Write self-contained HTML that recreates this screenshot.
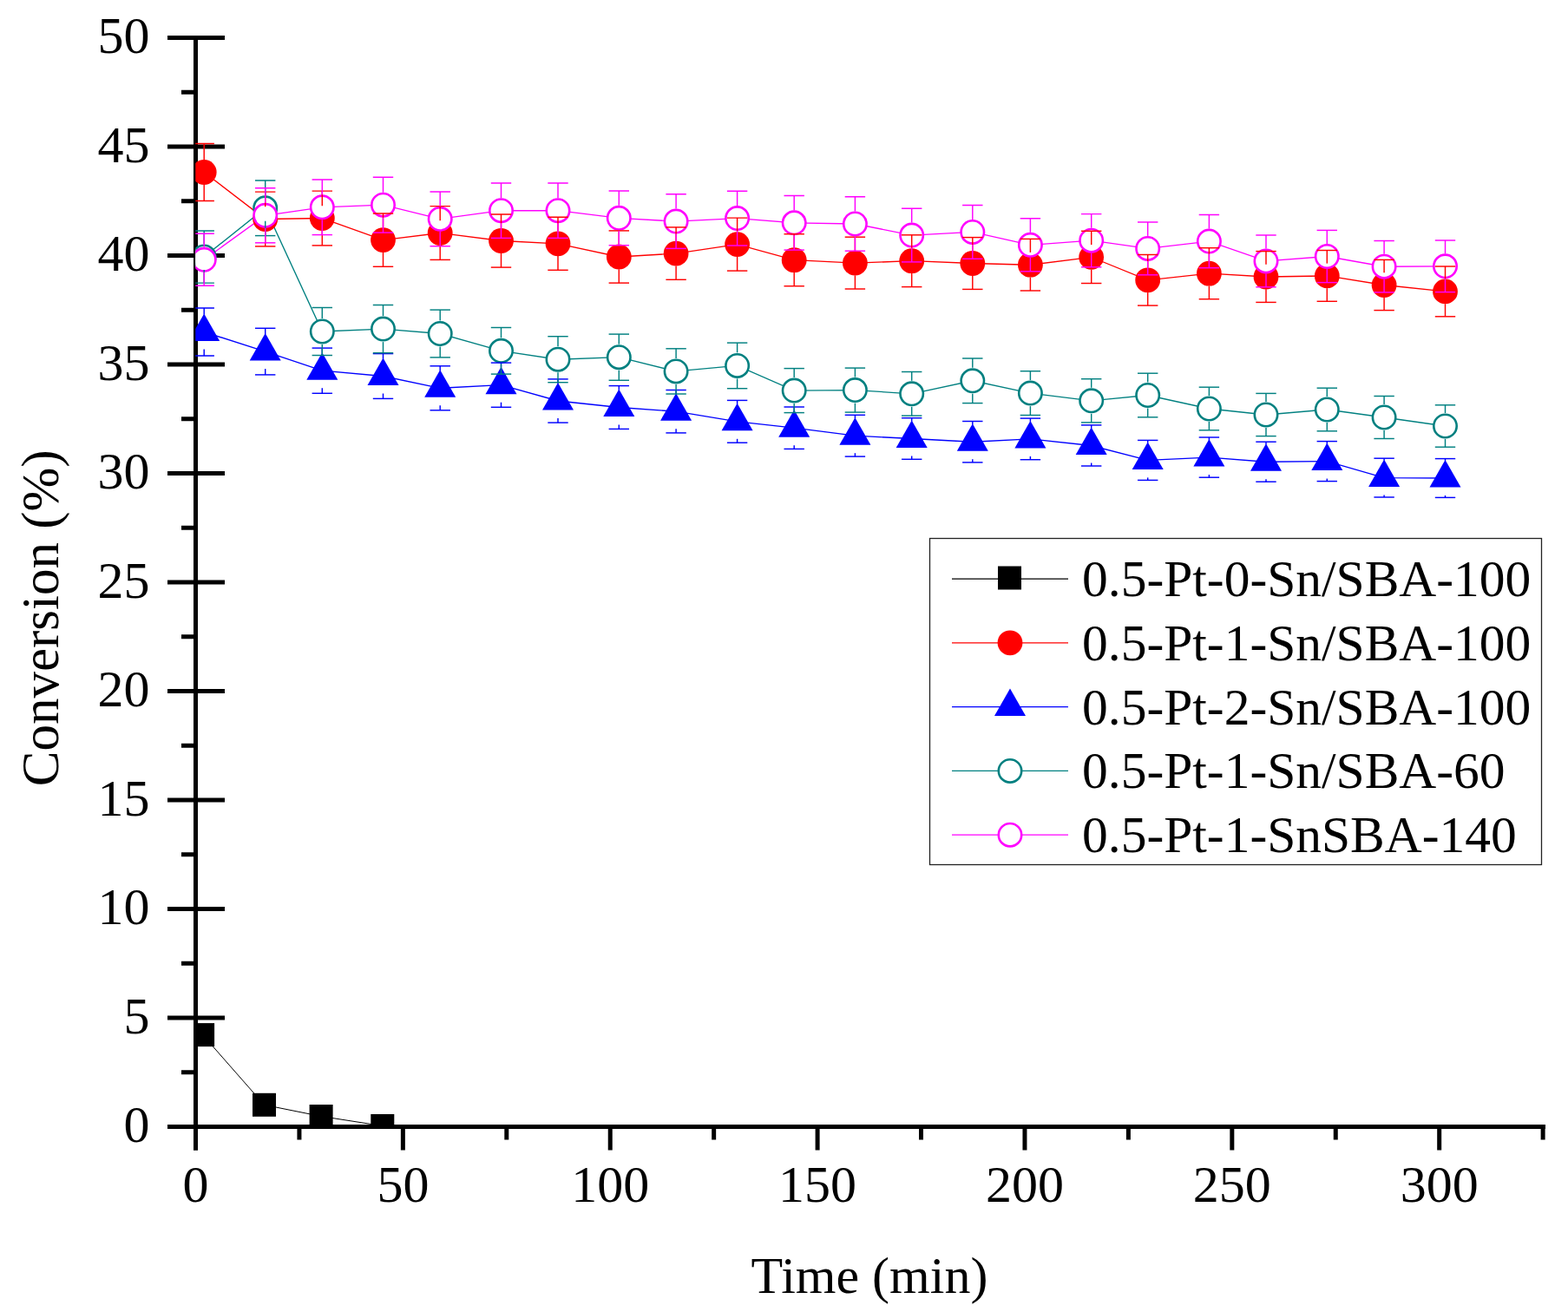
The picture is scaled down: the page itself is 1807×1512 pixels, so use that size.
<!DOCTYPE html>
<html><head><meta charset="utf-8"><title>Conversion vs Time</title>
<style>html,body{margin:0;padding:0;background:#fff;}svg{display:block;}</style>
</head><body>
<svg width="1807" height="1512" viewBox="0 0 1807 1512">
<rect x="0" y="0" width="1807" height="1512" fill="#ffffff"/>
<defs><clipPath id="pc"><rect x="225.3" y="43.5" width="1552.7" height="1255"/></clipPath></defs>
<g stroke="#000" stroke-width="5" stroke-linecap="butt"><line x1="225.5" y1="41" x2="225.5" y2="1325.5" /><line x1="193" y1="1298.5" x2="1781" y2="1298.5" /><line x1="193" y1="1298.50" x2="259" y2="1298.50" /><line x1="193" y1="1173.00" x2="259" y2="1173.00" /><line x1="193" y1="1047.50" x2="259" y2="1047.50" /><line x1="193" y1="922.00" x2="259" y2="922.00" /><line x1="193" y1="796.50" x2="259" y2="796.50" /><line x1="193" y1="671.00" x2="259" y2="671.00" /><line x1="193" y1="545.50" x2="259" y2="545.50" /><line x1="193" y1="420.00" x2="259" y2="420.00" /><line x1="193" y1="294.50" x2="259" y2="294.50" /><line x1="193" y1="169.00" x2="259" y2="169.00" /><line x1="193" y1="43.50" x2="259" y2="43.50" /><line x1="209" y1="1235.75" x2="225.5" y2="1235.75" /><line x1="209" y1="1110.25" x2="225.5" y2="1110.25" /><line x1="209" y1="984.75" x2="225.5" y2="984.75" /><line x1="209" y1="859.25" x2="225.5" y2="859.25" /><line x1="209" y1="733.75" x2="225.5" y2="733.75" /><line x1="209" y1="608.25" x2="225.5" y2="608.25" /><line x1="209" y1="482.75" x2="225.5" y2="482.75" /><line x1="209" y1="357.25" x2="225.5" y2="357.25" /><line x1="209" y1="231.75" x2="225.5" y2="231.75" /><line x1="209" y1="106.25" x2="225.5" y2="106.25" /><line x1="225.50" y1="1298.5" x2="225.50" y2="1325.5" /><line x1="464.37" y1="1298.5" x2="464.37" y2="1325.5" /><line x1="703.23" y1="1298.5" x2="703.23" y2="1325.5" /><line x1="942.10" y1="1298.5" x2="942.10" y2="1325.5" /><line x1="1180.96" y1="1298.5" x2="1180.96" y2="1325.5" /><line x1="1419.83" y1="1298.5" x2="1419.83" y2="1325.5" /><line x1="1658.69" y1="1298.5" x2="1658.69" y2="1325.5" /><line x1="344.93" y1="1298.5" x2="344.93" y2="1313.5" /><line x1="583.80" y1="1298.5" x2="583.80" y2="1313.5" /><line x1="822.66" y1="1298.5" x2="822.66" y2="1313.5" /><line x1="1061.53" y1="1298.5" x2="1061.53" y2="1313.5" /><line x1="1300.39" y1="1298.5" x2="1300.39" y2="1313.5" /><line x1="1539.26" y1="1298.5" x2="1539.26" y2="1313.5" /><line x1="1778.12" y1="1298.5" x2="1778.12" y2="1313.5" /></g>
<g font-family="'Liberation Serif', 'Times New Roman', serif" font-size="60" fill="#000"><text x="172.5" y="1316.0" text-anchor="end">0</text><text x="172.5" y="1190.5" text-anchor="end">5</text><text x="172.5" y="1065.0" text-anchor="end">10</text><text x="172.5" y="939.5" text-anchor="end">15</text><text x="172.5" y="814.0" text-anchor="end">20</text><text x="172.5" y="688.5" text-anchor="end">25</text><text x="172.5" y="563.0" text-anchor="end">30</text><text x="172.5" y="437.5" text-anchor="end">35</text><text x="172.5" y="312.0" text-anchor="end">40</text><text x="172.5" y="186.5" text-anchor="end">45</text><text x="172.5" y="61.0" text-anchor="end">50</text><text x="225.5" y="1385" text-anchor="middle">0</text><text x="464.4" y="1385" text-anchor="middle">50</text><text x="703.2" y="1385" text-anchor="middle">100</text><text x="942.1" y="1385" text-anchor="middle">150</text><text x="1181.0" y="1385" text-anchor="middle">200</text><text x="1419.8" y="1385" text-anchor="middle">250</text><text x="1658.7" y="1385" text-anchor="middle">300</text></g>
<text x="1002" y="1490" text-anchor="middle" font-family="'Liberation Serif', 'Times New Roman', serif" font-size="60" fill="#000">Time (min)</text>
<text transform="translate(66.8,712.3) rotate(-90)" x="0" y="0" text-anchor="middle" font-family="'Liberation Serif', 'Times New Roman', serif" font-size="61" fill="#000">Conversion (%)</text>
<g clip-path="url(#pc)"><polyline points="233.6,1192.6 304.5,1273.3 370.1,1286.5 440.8,1297.5" fill="none" stroke="#000000" stroke-width="1.0"/><polyline points="235.2,198.5 305.7,252.5 371.3,251.5 441.5,276.6 507.2,268.5 577.5,277.5 643.0,280.8 713.3,296.0 779.1,292.1 849.6,281.6 915.2,299.7 985.4,303.1 1050.7,300.7 1120.8,303.5 1187.4,305.2 1257.7,296.4 1322.7,322.8 1393.4,315.2 1459.0,319.0 1529.3,317.9 1595.1,328.5 1665.5,335.9" fill="none" stroke="#ff0000" stroke-width="1.35"/><polyline points="235.2,382.5 305.7,405.1 371.3,427.2 441.5,433.5 507.2,447.3 577.5,443.7 643.0,462.0 713.3,469.5 779.1,474.2 849.6,485.8 915.2,493.2 985.4,502.2 1050.7,505.5 1120.8,509.2 1187.4,505.9 1257.7,513.5 1322.7,530.4 1393.4,527.1 1459.0,532.2 1529.3,531.6 1595.1,550.6 1665.5,551.0" fill="none" stroke="#0000ff" stroke-width="1.35"/><polyline points="235.2,296.0 305.7,239.8 371.3,382.0 441.5,379.1 507.2,384.5 577.5,404.3 643.0,414.2 713.3,411.7 779.1,427.9 849.6,421.4 915.2,450.1 985.4,449.6 1050.7,453.8 1120.8,438.8 1187.4,453.1 1257.7,461.8 1322.7,455.5 1393.4,471.0 1459.0,478.0 1529.3,472.0 1595.1,481.0 1665.5,491.0" fill="none" stroke="#008080" stroke-width="1.35"/><polyline points="235.2,299.3 305.7,248.3 371.3,238.8 441.5,236.2 507.2,252.3 577.5,242.7 643.0,242.7 713.3,251.3 779.1,255.1 849.6,251.6 915.2,256.8 985.4,258.0 1050.7,271.1 1120.8,267.4 1187.4,282.3 1257.7,277.2 1322.7,286.4 1393.4,278.1 1459.0,300.9 1529.3,295.5 1595.1,307.2 1665.5,306.8" fill="none" stroke="#ff00ff" stroke-width="1.35"/><rect x="220.1" y="1179.1" width="27" height="27" fill="#000000"/><rect x="291.0" y="1259.8" width="27" height="27" fill="#000000"/><rect x="356.6" y="1273.0" width="27" height="27" fill="#000000"/><rect x="427.3" y="1284.0" width="27" height="27" fill="#000000"/><circle cx="235.2" cy="198.5" r="14.4" fill="#ff0000"/><circle cx="305.7" cy="252.5" r="14.4" fill="#ff0000"/><circle cx="371.3" cy="251.5" r="14.4" fill="#ff0000"/><circle cx="441.5" cy="276.6" r="14.4" fill="#ff0000"/><circle cx="507.2" cy="268.5" r="14.4" fill="#ff0000"/><circle cx="577.5" cy="277.5" r="14.4" fill="#ff0000"/><circle cx="643.0" cy="280.8" r="14.4" fill="#ff0000"/><circle cx="713.3" cy="296.0" r="14.4" fill="#ff0000"/><circle cx="779.1" cy="292.1" r="14.4" fill="#ff0000"/><circle cx="849.6" cy="281.6" r="14.4" fill="#ff0000"/><circle cx="915.2" cy="299.7" r="14.4" fill="#ff0000"/><circle cx="985.4" cy="303.1" r="14.4" fill="#ff0000"/><circle cx="1050.7" cy="300.7" r="14.4" fill="#ff0000"/><circle cx="1120.8" cy="303.5" r="14.4" fill="#ff0000"/><circle cx="1187.4" cy="305.2" r="14.4" fill="#ff0000"/><circle cx="1257.7" cy="296.4" r="14.4" fill="#ff0000"/><circle cx="1322.7" cy="322.8" r="14.4" fill="#ff0000"/><circle cx="1393.4" cy="315.2" r="14.4" fill="#ff0000"/><circle cx="1459.0" cy="319.0" r="14.4" fill="#ff0000"/><circle cx="1529.3" cy="317.9" r="14.4" fill="#ff0000"/><circle cx="1595.1" cy="328.5" r="14.4" fill="#ff0000"/><circle cx="1665.5" cy="335.9" r="14.4" fill="#ff0000"/><polygon points="235.2,361.5 253.2,393.0 217.2,393.0" fill="#0000ff"/><polygon points="305.7,384.1 323.7,415.6 287.7,415.6" fill="#0000ff"/><polygon points="371.3,406.2 389.3,437.7 353.3,437.7" fill="#0000ff"/><polygon points="441.5,412.5 459.5,444.0 423.5,444.0" fill="#0000ff"/><polygon points="507.2,426.3 525.2,457.8 489.2,457.8" fill="#0000ff"/><polygon points="577.5,422.7 595.5,454.2 559.5,454.2" fill="#0000ff"/><polygon points="643.0,441.0 661.0,472.5 625.0,472.5" fill="#0000ff"/><polygon points="713.3,448.5 731.3,480.0 695.3,480.0" fill="#0000ff"/><polygon points="779.1,453.2 797.1,484.7 761.1,484.7" fill="#0000ff"/><polygon points="849.6,464.8 867.6,496.3 831.6,496.3" fill="#0000ff"/><polygon points="915.2,472.2 933.2,503.7 897.2,503.7" fill="#0000ff"/><polygon points="985.4,481.2 1003.4,512.7 967.4,512.7" fill="#0000ff"/><polygon points="1050.7,484.5 1068.7,516.0 1032.7,516.0" fill="#0000ff"/><polygon points="1120.8,488.2 1138.8,519.7 1102.8,519.7" fill="#0000ff"/><polygon points="1187.4,484.9 1205.4,516.4 1169.4,516.4" fill="#0000ff"/><polygon points="1257.7,492.5 1275.7,524.0 1239.7,524.0" fill="#0000ff"/><polygon points="1322.7,509.4 1340.7,540.9 1304.7,540.9" fill="#0000ff"/><polygon points="1393.4,506.1 1411.4,537.6 1375.4,537.6" fill="#0000ff"/><polygon points="1459.0,511.2 1477.0,542.7 1441.0,542.7" fill="#0000ff"/><polygon points="1529.3,510.6 1547.3,542.1 1511.3,542.1" fill="#0000ff"/><polygon points="1595.1,529.6 1613.1,561.1 1577.1,561.1" fill="#0000ff"/><polygon points="1665.5,530.0 1683.5,561.5 1647.5,561.5" fill="#0000ff"/><circle cx="235.2" cy="296.0" r="13.200000000000001" fill="#fff" stroke="#008080" stroke-width="2.6"/><circle cx="305.7" cy="239.8" r="13.200000000000001" fill="#fff" stroke="#008080" stroke-width="2.6"/><circle cx="371.3" cy="382.0" r="13.200000000000001" fill="#fff" stroke="#008080" stroke-width="2.6"/><circle cx="441.5" cy="379.1" r="13.200000000000001" fill="#fff" stroke="#008080" stroke-width="2.6"/><circle cx="507.2" cy="384.5" r="13.200000000000001" fill="#fff" stroke="#008080" stroke-width="2.6"/><circle cx="577.5" cy="404.3" r="13.200000000000001" fill="#fff" stroke="#008080" stroke-width="2.6"/><circle cx="643.0" cy="414.2" r="13.200000000000001" fill="#fff" stroke="#008080" stroke-width="2.6"/><circle cx="713.3" cy="411.7" r="13.200000000000001" fill="#fff" stroke="#008080" stroke-width="2.6"/><circle cx="779.1" cy="427.9" r="13.200000000000001" fill="#fff" stroke="#008080" stroke-width="2.6"/><circle cx="849.6" cy="421.4" r="13.200000000000001" fill="#fff" stroke="#008080" stroke-width="2.6"/><circle cx="915.2" cy="450.1" r="13.200000000000001" fill="#fff" stroke="#008080" stroke-width="2.6"/><circle cx="985.4" cy="449.6" r="13.200000000000001" fill="#fff" stroke="#008080" stroke-width="2.6"/><circle cx="1050.7" cy="453.8" r="13.200000000000001" fill="#fff" stroke="#008080" stroke-width="2.6"/><circle cx="1120.8" cy="438.8" r="13.200000000000001" fill="#fff" stroke="#008080" stroke-width="2.6"/><circle cx="1187.4" cy="453.1" r="13.200000000000001" fill="#fff" stroke="#008080" stroke-width="2.6"/><circle cx="1257.7" cy="461.8" r="13.200000000000001" fill="#fff" stroke="#008080" stroke-width="2.6"/><circle cx="1322.7" cy="455.5" r="13.200000000000001" fill="#fff" stroke="#008080" stroke-width="2.6"/><circle cx="1393.4" cy="471.0" r="13.200000000000001" fill="#fff" stroke="#008080" stroke-width="2.6"/><circle cx="1459.0" cy="478.0" r="13.200000000000001" fill="#fff" stroke="#008080" stroke-width="2.6"/><circle cx="1529.3" cy="472.0" r="13.200000000000001" fill="#fff" stroke="#008080" stroke-width="2.6"/><circle cx="1595.1" cy="481.0" r="13.200000000000001" fill="#fff" stroke="#008080" stroke-width="2.6"/><circle cx="1665.5" cy="491.0" r="13.200000000000001" fill="#fff" stroke="#008080" stroke-width="2.6"/><circle cx="235.2" cy="299.3" r="13.200000000000001" fill="#fff" stroke="#ff00ff" stroke-width="2.6"/><circle cx="305.7" cy="248.3" r="13.200000000000001" fill="#fff" stroke="#ff00ff" stroke-width="2.6"/><circle cx="371.3" cy="238.8" r="13.200000000000001" fill="#fff" stroke="#ff00ff" stroke-width="2.6"/><circle cx="441.5" cy="236.2" r="13.200000000000001" fill="#fff" stroke="#ff00ff" stroke-width="2.6"/><circle cx="507.2" cy="252.3" r="13.200000000000001" fill="#fff" stroke="#ff00ff" stroke-width="2.6"/><circle cx="577.5" cy="242.7" r="13.200000000000001" fill="#fff" stroke="#ff00ff" stroke-width="2.6"/><circle cx="643.0" cy="242.7" r="13.200000000000001" fill="#fff" stroke="#ff00ff" stroke-width="2.6"/><circle cx="713.3" cy="251.3" r="13.200000000000001" fill="#fff" stroke="#ff00ff" stroke-width="2.6"/><circle cx="779.1" cy="255.1" r="13.200000000000001" fill="#fff" stroke="#ff00ff" stroke-width="2.6"/><circle cx="849.6" cy="251.6" r="13.200000000000001" fill="#fff" stroke="#ff00ff" stroke-width="2.6"/><circle cx="915.2" cy="256.8" r="13.200000000000001" fill="#fff" stroke="#ff00ff" stroke-width="2.6"/><circle cx="985.4" cy="258.0" r="13.200000000000001" fill="#fff" stroke="#ff00ff" stroke-width="2.6"/><circle cx="1050.7" cy="271.1" r="13.200000000000001" fill="#fff" stroke="#ff00ff" stroke-width="2.6"/><circle cx="1120.8" cy="267.4" r="13.200000000000001" fill="#fff" stroke="#ff00ff" stroke-width="2.6"/><circle cx="1187.4" cy="282.3" r="13.200000000000001" fill="#fff" stroke="#ff00ff" stroke-width="2.6"/><circle cx="1257.7" cy="277.2" r="13.200000000000001" fill="#fff" stroke="#ff00ff" stroke-width="2.6"/><circle cx="1322.7" cy="286.4" r="13.200000000000001" fill="#fff" stroke="#ff00ff" stroke-width="2.6"/><circle cx="1393.4" cy="278.1" r="13.200000000000001" fill="#fff" stroke="#ff00ff" stroke-width="2.6"/><circle cx="1459.0" cy="300.9" r="13.200000000000001" fill="#fff" stroke="#ff00ff" stroke-width="2.6"/><circle cx="1529.3" cy="295.5" r="13.200000000000001" fill="#fff" stroke="#ff00ff" stroke-width="2.6"/><circle cx="1595.1" cy="307.2" r="13.200000000000001" fill="#fff" stroke="#ff00ff" stroke-width="2.6"/><circle cx="1665.5" cy="306.8" r="13.200000000000001" fill="#fff" stroke="#ff00ff" stroke-width="2.6"/><g stroke="#ff0000" stroke-width="1.45"><line x1="235.2" y1="165.5" x2="235.2" y2="184.2" stroke-width="1.45"/><line x1="235.2" y1="212.8" x2="235.2" y2="231.5" stroke-width="1.45"/><line x1="223.5" y1="165.5" x2="246.9" y2="165.5"/><line x1="223.5" y1="231.5" x2="246.9" y2="231.5"/></g><g stroke="#ff0000" stroke-width="1.45"><line x1="305.7" y1="221.1" x2="305.7" y2="238.2" stroke-width="1.45"/><line x1="305.7" y1="266.8" x2="305.7" y2="283.9" stroke-width="1.45"/><line x1="294.0" y1="221.1" x2="317.4" y2="221.1"/><line x1="294.0" y1="283.9" x2="317.4" y2="283.9"/></g><g stroke="#ff0000" stroke-width="1.45"><line x1="371.3" y1="220.1" x2="371.3" y2="237.2" stroke-width="1.45"/><line x1="371.3" y1="265.8" x2="371.3" y2="282.9" stroke-width="1.45"/><line x1="359.6" y1="220.1" x2="383.0" y2="220.1"/><line x1="359.6" y1="282.9" x2="383.0" y2="282.9"/></g><g stroke="#ff0000" stroke-width="1.45"><line x1="441.5" y1="245.9" x2="441.5" y2="262.3" stroke-width="1.45"/><line x1="441.5" y1="290.9" x2="441.5" y2="307.3" stroke-width="1.45"/><line x1="429.8" y1="245.9" x2="453.2" y2="245.9"/><line x1="429.8" y1="307.3" x2="453.2" y2="307.3"/></g><g stroke="#ff0000" stroke-width="1.45"><line x1="507.2" y1="237.6" x2="507.2" y2="254.2" stroke-width="1.45"/><line x1="507.2" y1="282.8" x2="507.2" y2="299.4" stroke-width="1.45"/><line x1="495.5" y1="237.6" x2="518.9" y2="237.6"/><line x1="495.5" y1="299.4" x2="518.9" y2="299.4"/></g><g stroke="#ff0000" stroke-width="1.45"><line x1="577.5" y1="246.9" x2="577.5" y2="263.2" stroke-width="1.45"/><line x1="577.5" y1="291.8" x2="577.5" y2="308.1" stroke-width="1.45"/><line x1="565.8" y1="246.9" x2="589.2" y2="246.9"/><line x1="565.8" y1="308.1" x2="589.2" y2="308.1"/></g><g stroke="#ff0000" stroke-width="1.45"><line x1="643.0" y1="250.3" x2="643.0" y2="266.5" stroke-width="1.45"/><line x1="643.0" y1="295.1" x2="643.0" y2="311.3" stroke-width="1.45"/><line x1="631.3" y1="250.3" x2="654.7" y2="250.3"/><line x1="631.3" y1="311.3" x2="654.7" y2="311.3"/></g><g stroke="#ff0000" stroke-width="1.45"><line x1="713.3" y1="265.9" x2="713.3" y2="281.7" stroke-width="1.45"/><line x1="713.3" y1="310.3" x2="713.3" y2="326.1" stroke-width="1.45"/><line x1="701.6" y1="265.9" x2="725.0" y2="265.9"/><line x1="701.6" y1="326.1" x2="725.0" y2="326.1"/></g><g stroke="#ff0000" stroke-width="1.45"><line x1="779.1" y1="261.9" x2="779.1" y2="277.8" stroke-width="1.45"/><line x1="779.1" y1="306.4" x2="779.1" y2="322.3" stroke-width="1.45"/><line x1="767.4" y1="261.9" x2="790.8" y2="261.9"/><line x1="767.4" y1="322.3" x2="790.8" y2="322.3"/></g><g stroke="#ff0000" stroke-width="1.45"><line x1="849.6" y1="251.1" x2="849.6" y2="267.3" stroke-width="1.45"/><line x1="849.6" y1="295.9" x2="849.6" y2="312.1" stroke-width="1.45"/><line x1="837.9" y1="251.1" x2="861.3" y2="251.1"/><line x1="837.9" y1="312.1" x2="861.3" y2="312.1"/></g><g stroke="#ff0000" stroke-width="1.45"><line x1="915.2" y1="269.7" x2="915.2" y2="285.4" stroke-width="1.45"/><line x1="915.2" y1="314.0" x2="915.2" y2="329.7" stroke-width="1.45"/><line x1="903.5" y1="269.7" x2="926.9" y2="269.7"/><line x1="903.5" y1="329.7" x2="926.9" y2="329.7"/></g><g stroke="#ff0000" stroke-width="1.45"><line x1="985.4" y1="273.2" x2="985.4" y2="288.8" stroke-width="1.45"/><line x1="985.4" y1="317.4" x2="985.4" y2="333.0" stroke-width="1.45"/><line x1="973.7" y1="273.2" x2="997.1" y2="273.2"/><line x1="973.7" y1="333.0" x2="997.1" y2="333.0"/></g><g stroke="#ff0000" stroke-width="1.45"><line x1="1050.7" y1="270.8" x2="1050.7" y2="286.4" stroke-width="1.45"/><line x1="1050.7" y1="315.0" x2="1050.7" y2="330.6" stroke-width="1.45"/><line x1="1039.0" y1="270.8" x2="1062.4" y2="270.8"/><line x1="1039.0" y1="330.6" x2="1062.4" y2="330.6"/></g><g stroke="#ff0000" stroke-width="1.45"><line x1="1120.8" y1="273.6" x2="1120.8" y2="289.2" stroke-width="1.45"/><line x1="1120.8" y1="317.8" x2="1120.8" y2="333.4" stroke-width="1.45"/><line x1="1109.1" y1="273.6" x2="1132.5" y2="273.6"/><line x1="1109.1" y1="333.4" x2="1132.5" y2="333.4"/></g><g stroke="#ff0000" stroke-width="1.45"><line x1="1187.4" y1="275.4" x2="1187.4" y2="290.9" stroke-width="1.45"/><line x1="1187.4" y1="319.5" x2="1187.4" y2="335.0" stroke-width="1.45"/><line x1="1175.7" y1="275.4" x2="1199.1" y2="275.4"/><line x1="1175.7" y1="335.0" x2="1199.1" y2="335.0"/></g><g stroke="#ff0000" stroke-width="1.45"><line x1="1257.7" y1="266.3" x2="1257.7" y2="282.1" stroke-width="1.45"/><line x1="1257.7" y1="310.7" x2="1257.7" y2="326.5" stroke-width="1.45"/><line x1="1246.0" y1="266.3" x2="1269.4" y2="266.3"/><line x1="1246.0" y1="326.5" x2="1269.4" y2="326.5"/></g><g stroke="#ff0000" stroke-width="1.45"><line x1="1322.7" y1="293.5" x2="1322.7" y2="308.5" stroke-width="1.45"/><line x1="1322.7" y1="337.1" x2="1322.7" y2="352.1" stroke-width="1.45"/><line x1="1311.0" y1="293.5" x2="1334.4" y2="293.5"/><line x1="1311.0" y1="352.1" x2="1334.4" y2="352.1"/></g><g stroke="#ff0000" stroke-width="1.45"><line x1="1393.4" y1="285.7" x2="1393.4" y2="300.9" stroke-width="1.45"/><line x1="1393.4" y1="329.5" x2="1393.4" y2="344.7" stroke-width="1.45"/><line x1="1381.7" y1="285.7" x2="1405.1" y2="285.7"/><line x1="1381.7" y1="344.7" x2="1405.1" y2="344.7"/></g><g stroke="#ff0000" stroke-width="1.45"><line x1="1459.0" y1="289.6" x2="1459.0" y2="304.7" stroke-width="1.45"/><line x1="1459.0" y1="333.3" x2="1459.0" y2="348.4" stroke-width="1.45"/><line x1="1447.3" y1="289.6" x2="1470.7" y2="289.6"/><line x1="1447.3" y1="348.4" x2="1470.7" y2="348.4"/></g><g stroke="#ff0000" stroke-width="1.45"><line x1="1529.3" y1="288.5" x2="1529.3" y2="303.6" stroke-width="1.45"/><line x1="1529.3" y1="332.2" x2="1529.3" y2="347.3" stroke-width="1.45"/><line x1="1517.6" y1="288.5" x2="1541.0" y2="288.5"/><line x1="1517.6" y1="347.3" x2="1541.0" y2="347.3"/></g><g stroke="#ff0000" stroke-width="1.45"><line x1="1595.1" y1="299.4" x2="1595.1" y2="314.2" stroke-width="1.45"/><line x1="1595.1" y1="342.8" x2="1595.1" y2="357.6" stroke-width="1.45"/><line x1="1583.4" y1="299.4" x2="1606.8" y2="299.4"/><line x1="1583.4" y1="357.6" x2="1606.8" y2="357.6"/></g><g stroke="#ff0000" stroke-width="1.45"><line x1="1665.5" y1="307.0" x2="1665.5" y2="321.6" stroke-width="1.45"/><line x1="1665.5" y1="350.2" x2="1665.5" y2="364.8" stroke-width="1.45"/><line x1="1653.8" y1="307.0" x2="1677.2" y2="307.0"/><line x1="1653.8" y1="364.8" x2="1677.2" y2="364.8"/></g><g stroke="#0000ff" stroke-width="1.45"><line x1="235.2" y1="355.0" x2="235.2" y2="362.5" stroke-width="1.45"/><line x1="235.2" y1="402.5" x2="235.2" y2="410.0" stroke-width="1.45"/><line x1="223.5" y1="355.0" x2="246.9" y2="355.0"/><line x1="223.5" y1="410.0" x2="246.9" y2="410.0"/></g><g stroke="#0000ff" stroke-width="1.45"><line x1="305.7" y1="378.3" x2="305.7" y2="385.1" stroke-width="1.45"/><line x1="305.7" y1="425.1" x2="305.7" y2="431.9" stroke-width="1.45"/><line x1="294.0" y1="378.3" x2="317.4" y2="378.3"/><line x1="294.0" y1="431.9" x2="317.4" y2="431.9"/></g><g stroke="#0000ff" stroke-width="1.45"><line x1="371.3" y1="401.1" x2="371.3" y2="407.2" stroke-width="1.45"/><line x1="371.3" y1="447.2" x2="371.3" y2="453.3" stroke-width="1.45"/><line x1="359.6" y1="401.1" x2="383.0" y2="401.1"/><line x1="359.6" y1="453.3" x2="383.0" y2="453.3"/></g><g stroke="#0000ff" stroke-width="1.45"><line x1="441.5" y1="407.6" x2="441.5" y2="413.5" stroke-width="1.45"/><line x1="441.5" y1="453.5" x2="441.5" y2="459.4" stroke-width="1.45"/><line x1="429.8" y1="407.6" x2="453.2" y2="407.6"/><line x1="429.8" y1="459.4" x2="453.2" y2="459.4"/></g><g stroke="#0000ff" stroke-width="1.45"><line x1="507.2" y1="421.8" x2="507.2" y2="427.3" stroke-width="1.45"/><line x1="507.2" y1="467.3" x2="507.2" y2="472.8" stroke-width="1.45"/><line x1="495.5" y1="421.8" x2="518.9" y2="421.8"/><line x1="495.5" y1="472.8" x2="518.9" y2="472.8"/></g><g stroke="#0000ff" stroke-width="1.45"><line x1="577.5" y1="418.1" x2="577.5" y2="423.7" stroke-width="1.45"/><line x1="577.5" y1="463.7" x2="577.5" y2="469.3" stroke-width="1.45"/><line x1="565.8" y1="418.1" x2="589.2" y2="418.1"/><line x1="565.8" y1="469.3" x2="589.2" y2="469.3"/></g><g stroke="#0000ff" stroke-width="1.45"><line x1="643.0" y1="436.9" x2="643.0" y2="442.0" stroke-width="1.45"/><line x1="643.0" y1="482.0" x2="643.0" y2="487.1" stroke-width="1.45"/><line x1="631.3" y1="436.9" x2="654.7" y2="436.9"/><line x1="631.3" y1="487.1" x2="654.7" y2="487.1"/></g><g stroke="#0000ff" stroke-width="1.45"><line x1="713.3" y1="444.6" x2="713.3" y2="449.5" stroke-width="1.45"/><line x1="713.3" y1="489.5" x2="713.3" y2="494.4" stroke-width="1.45"/><line x1="701.6" y1="444.6" x2="725.0" y2="444.6"/><line x1="701.6" y1="494.4" x2="725.0" y2="494.4"/></g><g stroke="#0000ff" stroke-width="1.45"><line x1="779.1" y1="449.5" x2="779.1" y2="454.2" stroke-width="1.45"/><line x1="779.1" y1="494.2" x2="779.1" y2="498.9" stroke-width="1.45"/><line x1="767.4" y1="449.5" x2="790.8" y2="449.5"/><line x1="767.4" y1="498.9" x2="790.8" y2="498.9"/></g><g stroke="#0000ff" stroke-width="1.45"><line x1="849.6" y1="461.4" x2="849.6" y2="465.8" stroke-width="1.45"/><line x1="849.6" y1="505.8" x2="849.6" y2="510.2" stroke-width="1.45"/><line x1="837.9" y1="461.4" x2="861.3" y2="461.4"/><line x1="837.9" y1="510.2" x2="861.3" y2="510.2"/></g><g stroke="#0000ff" stroke-width="1.45"><line x1="915.2" y1="469.0" x2="915.2" y2="473.2" stroke-width="1.45"/><line x1="915.2" y1="513.2" x2="915.2" y2="517.4" stroke-width="1.45"/><line x1="903.5" y1="469.0" x2="926.9" y2="469.0"/><line x1="903.5" y1="517.4" x2="926.9" y2="517.4"/></g><g stroke="#0000ff" stroke-width="1.45"><line x1="985.4" y1="478.3" x2="985.4" y2="482.2" stroke-width="1.45"/><line x1="985.4" y1="522.2" x2="985.4" y2="526.1" stroke-width="1.45"/><line x1="973.7" y1="478.3" x2="997.1" y2="478.3"/><line x1="973.7" y1="526.1" x2="997.1" y2="526.1"/></g><g stroke="#0000ff" stroke-width="1.45"><line x1="1050.7" y1="481.7" x2="1050.7" y2="485.5" stroke-width="1.45"/><line x1="1050.7" y1="525.5" x2="1050.7" y2="529.3" stroke-width="1.45"/><line x1="1039.0" y1="481.7" x2="1062.4" y2="481.7"/><line x1="1039.0" y1="529.3" x2="1062.4" y2="529.3"/></g><g stroke="#0000ff" stroke-width="1.45"><line x1="1120.8" y1="485.5" x2="1120.8" y2="489.2" stroke-width="1.45"/><line x1="1120.8" y1="529.2" x2="1120.8" y2="532.9" stroke-width="1.45"/><line x1="1109.1" y1="485.5" x2="1132.5" y2="485.5"/><line x1="1109.1" y1="532.9" x2="1132.5" y2="532.9"/></g><g stroke="#0000ff" stroke-width="1.45"><line x1="1187.4" y1="482.1" x2="1187.4" y2="485.9" stroke-width="1.45"/><line x1="1187.4" y1="525.9" x2="1187.4" y2="529.7" stroke-width="1.45"/><line x1="1175.7" y1="482.1" x2="1199.1" y2="482.1"/><line x1="1175.7" y1="529.7" x2="1199.1" y2="529.7"/></g><g stroke="#0000ff" stroke-width="1.45"><line x1="1257.7" y1="489.9" x2="1257.7" y2="493.5" stroke-width="1.45"/><line x1="1257.7" y1="533.5" x2="1257.7" y2="537.0" stroke-width="1.45"/><line x1="1246.0" y1="489.9" x2="1269.4" y2="489.9"/><line x1="1246.0" y1="537.0" x2="1269.4" y2="537.0"/></g><g stroke="#0000ff" stroke-width="1.45"><line x1="1322.7" y1="507.4" x2="1322.7" y2="510.4" stroke-width="1.45"/><line x1="1322.7" y1="550.4" x2="1322.7" y2="553.4" stroke-width="1.45"/><line x1="1311.0" y1="507.4" x2="1334.4" y2="507.4"/><line x1="1311.0" y1="553.4" x2="1334.4" y2="553.4"/></g><g stroke="#0000ff" stroke-width="1.45"><line x1="1393.4" y1="504.0" x2="1393.4" y2="507.1" stroke-width="1.45"/><line x1="1393.4" y1="547.1" x2="1393.4" y2="550.2" stroke-width="1.45"/><line x1="1381.7" y1="504.0" x2="1405.1" y2="504.0"/><line x1="1381.7" y1="550.2" x2="1405.1" y2="550.2"/></g><g stroke="#0000ff" stroke-width="1.45"><line x1="1459.0" y1="509.2" x2="1459.0" y2="512.2" stroke-width="1.45"/><line x1="1459.0" y1="552.2" x2="1459.0" y2="555.2" stroke-width="1.45"/><line x1="1447.3" y1="509.2" x2="1470.7" y2="509.2"/><line x1="1447.3" y1="555.2" x2="1470.7" y2="555.2"/></g><g stroke="#0000ff" stroke-width="1.45"><line x1="1529.3" y1="508.6" x2="1529.3" y2="511.6" stroke-width="1.45"/><line x1="1529.3" y1="551.6" x2="1529.3" y2="554.6" stroke-width="1.45"/><line x1="1517.6" y1="508.6" x2="1541.0" y2="508.6"/><line x1="1517.6" y1="554.6" x2="1541.0" y2="554.6"/></g><g stroke="#0000ff" stroke-width="1.45"><line x1="1595.1" y1="528.2" x2="1595.1" y2="530.6" stroke-width="1.45"/><line x1="1595.1" y1="570.6" x2="1595.1" y2="573.0" stroke-width="1.45"/><line x1="1583.4" y1="528.2" x2="1606.8" y2="528.2"/><line x1="1583.4" y1="573.0" x2="1606.8" y2="573.0"/></g><g stroke="#0000ff" stroke-width="1.45"><line x1="1665.5" y1="528.6" x2="1665.5" y2="531.0" stroke-width="1.45"/><line x1="1665.5" y1="571.0" x2="1665.5" y2="573.4" stroke-width="1.45"/><line x1="1653.8" y1="528.6" x2="1677.2" y2="528.6"/><line x1="1653.8" y1="573.4" x2="1677.2" y2="573.4"/></g><g stroke="#008080" stroke-width="1.45"><line x1="235.2" y1="265.9" x2="235.2" y2="281.0" stroke-width="1.45"/><line x1="235.2" y1="311.0" x2="235.2" y2="326.1" stroke-width="1.45"/><line x1="223.5" y1="265.9" x2="246.9" y2="265.9"/><line x1="223.5" y1="326.1" x2="246.9" y2="326.1"/></g><g stroke="#008080" stroke-width="1.45"><line x1="305.7" y1="208.0" x2="305.7" y2="224.8" stroke-width="1.45"/><line x1="305.7" y1="254.8" x2="305.7" y2="271.6" stroke-width="1.45"/><line x1="294.0" y1="208.0" x2="317.4" y2="208.0"/><line x1="294.0" y1="271.6" x2="317.4" y2="271.6"/></g><g stroke="#008080" stroke-width="1.45"><line x1="371.3" y1="354.5" x2="371.3" y2="367.0" stroke-width="1.45"/><line x1="371.3" y1="397.0" x2="371.3" y2="409.5" stroke-width="1.45"/><line x1="359.6" y1="354.5" x2="383.0" y2="354.5"/><line x1="359.6" y1="409.5" x2="383.0" y2="409.5"/></g><g stroke="#008080" stroke-width="1.45"><line x1="441.5" y1="351.5" x2="441.5" y2="364.1" stroke-width="1.45"/><line x1="441.5" y1="394.1" x2="441.5" y2="406.7" stroke-width="1.45"/><line x1="429.8" y1="351.5" x2="453.2" y2="351.5"/><line x1="429.8" y1="406.7" x2="453.2" y2="406.7"/></g><g stroke="#008080" stroke-width="1.45"><line x1="507.2" y1="357.1" x2="507.2" y2="369.5" stroke-width="1.45"/><line x1="507.2" y1="399.5" x2="507.2" y2="411.9" stroke-width="1.45"/><line x1="495.5" y1="357.1" x2="518.9" y2="357.1"/><line x1="495.5" y1="411.9" x2="518.9" y2="411.9"/></g><g stroke="#008080" stroke-width="1.45"><line x1="577.5" y1="377.5" x2="577.5" y2="389.3" stroke-width="1.45"/><line x1="577.5" y1="419.3" x2="577.5" y2="431.1" stroke-width="1.45"/><line x1="565.8" y1="377.5" x2="589.2" y2="377.5"/><line x1="565.8" y1="431.1" x2="589.2" y2="431.1"/></g><g stroke="#008080" stroke-width="1.45"><line x1="643.0" y1="387.7" x2="643.0" y2="399.2" stroke-width="1.45"/><line x1="643.0" y1="429.2" x2="643.0" y2="440.7" stroke-width="1.45"/><line x1="631.3" y1="387.7" x2="654.7" y2="387.7"/><line x1="631.3" y1="440.7" x2="654.7" y2="440.7"/></g><g stroke="#008080" stroke-width="1.45"><line x1="713.3" y1="385.1" x2="713.3" y2="396.7" stroke-width="1.45"/><line x1="713.3" y1="426.7" x2="713.3" y2="438.3" stroke-width="1.45"/><line x1="701.6" y1="385.1" x2="725.0" y2="385.1"/><line x1="701.6" y1="438.3" x2="725.0" y2="438.3"/></g><g stroke="#008080" stroke-width="1.45"><line x1="779.1" y1="401.8" x2="779.1" y2="412.9" stroke-width="1.45"/><line x1="779.1" y1="442.9" x2="779.1" y2="454.0" stroke-width="1.45"/><line x1="767.4" y1="401.8" x2="790.8" y2="401.8"/><line x1="767.4" y1="454.0" x2="790.8" y2="454.0"/></g><g stroke="#008080" stroke-width="1.45"><line x1="849.6" y1="395.1" x2="849.6" y2="406.4" stroke-width="1.45"/><line x1="849.6" y1="436.4" x2="849.6" y2="447.7" stroke-width="1.45"/><line x1="837.9" y1="395.1" x2="861.3" y2="395.1"/><line x1="837.9" y1="447.7" x2="861.3" y2="447.7"/></g><g stroke="#008080" stroke-width="1.45"><line x1="915.2" y1="424.6" x2="915.2" y2="435.1" stroke-width="1.45"/><line x1="915.2" y1="465.1" x2="915.2" y2="475.6" stroke-width="1.45"/><line x1="903.5" y1="424.6" x2="926.9" y2="424.6"/><line x1="903.5" y1="475.6" x2="926.9" y2="475.6"/></g><g stroke="#008080" stroke-width="1.45"><line x1="985.4" y1="424.1" x2="985.4" y2="434.6" stroke-width="1.45"/><line x1="985.4" y1="464.6" x2="985.4" y2="475.1" stroke-width="1.45"/><line x1="973.7" y1="424.1" x2="997.1" y2="424.1"/><line x1="973.7" y1="475.1" x2="997.1" y2="475.1"/></g><g stroke="#008080" stroke-width="1.45"><line x1="1050.7" y1="428.5" x2="1050.7" y2="438.8" stroke-width="1.45"/><line x1="1050.7" y1="468.8" x2="1050.7" y2="479.1" stroke-width="1.45"/><line x1="1039.0" y1="428.5" x2="1062.4" y2="428.5"/><line x1="1039.0" y1="479.1" x2="1062.4" y2="479.1"/></g><g stroke="#008080" stroke-width="1.45"><line x1="1120.8" y1="413.0" x2="1120.8" y2="423.8" stroke-width="1.45"/><line x1="1120.8" y1="453.8" x2="1120.8" y2="464.6" stroke-width="1.45"/><line x1="1109.1" y1="413.0" x2="1132.5" y2="413.0"/><line x1="1109.1" y1="464.6" x2="1132.5" y2="464.6"/></g><g stroke="#008080" stroke-width="1.45"><line x1="1187.4" y1="427.7" x2="1187.4" y2="438.1" stroke-width="1.45"/><line x1="1187.4" y1="468.1" x2="1187.4" y2="478.5" stroke-width="1.45"/><line x1="1175.7" y1="427.7" x2="1199.1" y2="427.7"/><line x1="1175.7" y1="478.5" x2="1199.1" y2="478.5"/></g><g stroke="#008080" stroke-width="1.45"><line x1="1257.7" y1="436.7" x2="1257.7" y2="446.8" stroke-width="1.45"/><line x1="1257.7" y1="476.8" x2="1257.7" y2="486.9" stroke-width="1.45"/><line x1="1246.0" y1="436.7" x2="1269.4" y2="436.7"/><line x1="1246.0" y1="486.9" x2="1269.4" y2="486.9"/></g><g stroke="#008080" stroke-width="1.45"><line x1="1322.7" y1="430.2" x2="1322.7" y2="440.5" stroke-width="1.45"/><line x1="1322.7" y1="470.5" x2="1322.7" y2="480.8" stroke-width="1.45"/><line x1="1311.0" y1="430.2" x2="1334.4" y2="430.2"/><line x1="1311.0" y1="480.8" x2="1334.4" y2="480.8"/></g><g stroke="#008080" stroke-width="1.45"><line x1="1393.4" y1="446.2" x2="1393.4" y2="456.0" stroke-width="1.45"/><line x1="1393.4" y1="486.0" x2="1393.4" y2="495.8" stroke-width="1.45"/><line x1="1381.7" y1="446.2" x2="1405.1" y2="446.2"/><line x1="1381.7" y1="495.8" x2="1405.1" y2="495.8"/></g><g stroke="#008080" stroke-width="1.45"><line x1="1459.0" y1="453.4" x2="1459.0" y2="463.0" stroke-width="1.45"/><line x1="1459.0" y1="493.0" x2="1459.0" y2="502.6" stroke-width="1.45"/><line x1="1447.3" y1="453.4" x2="1470.7" y2="453.4"/><line x1="1447.3" y1="502.6" x2="1470.7" y2="502.6"/></g><g stroke="#008080" stroke-width="1.45"><line x1="1529.3" y1="447.2" x2="1529.3" y2="457.0" stroke-width="1.45"/><line x1="1529.3" y1="487.0" x2="1529.3" y2="496.8" stroke-width="1.45"/><line x1="1517.6" y1="447.2" x2="1541.0" y2="447.2"/><line x1="1517.6" y1="496.8" x2="1541.0" y2="496.8"/></g><g stroke="#008080" stroke-width="1.45"><line x1="1595.1" y1="456.5" x2="1595.1" y2="466.0" stroke-width="1.45"/><line x1="1595.1" y1="496.0" x2="1595.1" y2="505.5" stroke-width="1.45"/><line x1="1583.4" y1="456.5" x2="1606.8" y2="456.5"/><line x1="1583.4" y1="505.5" x2="1606.8" y2="505.5"/></g><g stroke="#008080" stroke-width="1.45"><line x1="1665.5" y1="466.8" x2="1665.5" y2="476.0" stroke-width="1.45"/><line x1="1665.5" y1="506.0" x2="1665.5" y2="515.2" stroke-width="1.45"/><line x1="1653.8" y1="466.8" x2="1677.2" y2="466.8"/><line x1="1653.8" y1="515.2" x2="1677.2" y2="515.2"/></g><g stroke="#ff00ff" stroke-width="1.45"><line x1="235.2" y1="269.3" x2="235.2" y2="284.8" stroke-width="1.45"/><line x1="235.2" y1="313.8" x2="235.2" y2="329.3" stroke-width="1.45"/><line x1="223.5" y1="269.3" x2="246.9" y2="269.3"/><line x1="223.5" y1="329.3" x2="246.9" y2="329.3"/></g><g stroke="#ff00ff" stroke-width="1.45"><line x1="305.7" y1="216.8" x2="305.7" y2="233.8" stroke-width="1.45"/><line x1="305.7" y1="262.8" x2="305.7" y2="279.8" stroke-width="1.45"/><line x1="294.0" y1="216.8" x2="317.4" y2="216.8"/><line x1="294.0" y1="279.8" x2="317.4" y2="279.8"/></g><g stroke="#ff00ff" stroke-width="1.45"><line x1="371.3" y1="207.0" x2="371.3" y2="224.3" stroke-width="1.45"/><line x1="371.3" y1="253.3" x2="371.3" y2="270.6" stroke-width="1.45"/><line x1="359.6" y1="207.0" x2="383.0" y2="207.0"/><line x1="359.6" y1="270.6" x2="383.0" y2="270.6"/></g><g stroke="#ff00ff" stroke-width="1.45"><line x1="441.5" y1="204.3" x2="441.5" y2="221.7" stroke-width="1.45"/><line x1="441.5" y1="250.7" x2="441.5" y2="268.1" stroke-width="1.45"/><line x1="429.8" y1="204.3" x2="453.2" y2="204.3"/><line x1="429.8" y1="268.1" x2="453.2" y2="268.1"/></g><g stroke="#ff00ff" stroke-width="1.45"><line x1="507.2" y1="220.9" x2="507.2" y2="237.8" stroke-width="1.45"/><line x1="507.2" y1="266.8" x2="507.2" y2="283.7" stroke-width="1.45"/><line x1="495.5" y1="220.9" x2="518.9" y2="220.9"/><line x1="495.5" y1="283.7" x2="518.9" y2="283.7"/></g><g stroke="#ff00ff" stroke-width="1.45"><line x1="577.5" y1="211.0" x2="577.5" y2="228.2" stroke-width="1.45"/><line x1="577.5" y1="257.2" x2="577.5" y2="274.4" stroke-width="1.45"/><line x1="565.8" y1="211.0" x2="589.2" y2="211.0"/><line x1="565.8" y1="274.4" x2="589.2" y2="274.4"/></g><g stroke="#ff00ff" stroke-width="1.45"><line x1="643.0" y1="211.0" x2="643.0" y2="228.2" stroke-width="1.45"/><line x1="643.0" y1="257.2" x2="643.0" y2="274.4" stroke-width="1.45"/><line x1="631.3" y1="211.0" x2="654.7" y2="211.0"/><line x1="631.3" y1="274.4" x2="654.7" y2="274.4"/></g><g stroke="#ff00ff" stroke-width="1.45"><line x1="713.3" y1="219.9" x2="713.3" y2="236.8" stroke-width="1.45"/><line x1="713.3" y1="265.8" x2="713.3" y2="282.7" stroke-width="1.45"/><line x1="701.6" y1="219.9" x2="725.0" y2="219.9"/><line x1="701.6" y1="282.7" x2="725.0" y2="282.7"/></g><g stroke="#ff00ff" stroke-width="1.45"><line x1="779.1" y1="223.8" x2="779.1" y2="240.6" stroke-width="1.45"/><line x1="779.1" y1="269.6" x2="779.1" y2="286.4" stroke-width="1.45"/><line x1="767.4" y1="223.8" x2="790.8" y2="223.8"/><line x1="767.4" y1="286.4" x2="790.8" y2="286.4"/></g><g stroke="#ff00ff" stroke-width="1.45"><line x1="849.6" y1="220.2" x2="849.6" y2="237.1" stroke-width="1.45"/><line x1="849.6" y1="266.1" x2="849.6" y2="283.0" stroke-width="1.45"/><line x1="837.9" y1="220.2" x2="861.3" y2="220.2"/><line x1="837.9" y1="283.0" x2="861.3" y2="283.0"/></g><g stroke="#ff00ff" stroke-width="1.45"><line x1="915.2" y1="225.5" x2="915.2" y2="242.3" stroke-width="1.45"/><line x1="915.2" y1="271.3" x2="915.2" y2="288.1" stroke-width="1.45"/><line x1="903.5" y1="225.5" x2="926.9" y2="225.5"/><line x1="903.5" y1="288.1" x2="926.9" y2="288.1"/></g><g stroke="#ff00ff" stroke-width="1.45"><line x1="985.4" y1="226.8" x2="985.4" y2="243.5" stroke-width="1.45"/><line x1="985.4" y1="272.5" x2="985.4" y2="289.2" stroke-width="1.45"/><line x1="973.7" y1="226.8" x2="997.1" y2="226.8"/><line x1="973.7" y1="289.2" x2="997.1" y2="289.2"/></g><g stroke="#ff00ff" stroke-width="1.45"><line x1="1050.7" y1="240.3" x2="1050.7" y2="256.6" stroke-width="1.45"/><line x1="1050.7" y1="285.6" x2="1050.7" y2="301.9" stroke-width="1.45"/><line x1="1039.0" y1="240.3" x2="1062.4" y2="240.3"/><line x1="1039.0" y1="301.9" x2="1062.4" y2="301.9"/></g><g stroke="#ff00ff" stroke-width="1.45"><line x1="1120.8" y1="236.5" x2="1120.8" y2="252.9" stroke-width="1.45"/><line x1="1120.8" y1="281.9" x2="1120.8" y2="298.3" stroke-width="1.45"/><line x1="1109.1" y1="236.5" x2="1132.5" y2="236.5"/><line x1="1109.1" y1="298.3" x2="1132.5" y2="298.3"/></g><g stroke="#ff00ff" stroke-width="1.45"><line x1="1187.4" y1="251.8" x2="1187.4" y2="267.8" stroke-width="1.45"/><line x1="1187.4" y1="296.8" x2="1187.4" y2="312.8" stroke-width="1.45"/><line x1="1175.7" y1="251.8" x2="1199.1" y2="251.8"/><line x1="1175.7" y1="312.8" x2="1199.1" y2="312.8"/></g><g stroke="#ff00ff" stroke-width="1.45"><line x1="1257.7" y1="246.6" x2="1257.7" y2="262.7" stroke-width="1.45"/><line x1="1257.7" y1="291.7" x2="1257.7" y2="307.8" stroke-width="1.45"/><line x1="1246.0" y1="246.6" x2="1269.4" y2="246.6"/><line x1="1246.0" y1="307.8" x2="1269.4" y2="307.8"/></g><g stroke="#ff00ff" stroke-width="1.45"><line x1="1322.7" y1="256.0" x2="1322.7" y2="271.9" stroke-width="1.45"/><line x1="1322.7" y1="300.9" x2="1322.7" y2="316.8" stroke-width="1.45"/><line x1="1311.0" y1="256.0" x2="1334.4" y2="256.0"/><line x1="1311.0" y1="316.8" x2="1334.4" y2="316.8"/></g><g stroke="#ff00ff" stroke-width="1.45"><line x1="1393.4" y1="247.5" x2="1393.4" y2="263.6" stroke-width="1.45"/><line x1="1393.4" y1="292.6" x2="1393.4" y2="308.7" stroke-width="1.45"/><line x1="1381.7" y1="247.5" x2="1405.1" y2="247.5"/><line x1="1381.7" y1="308.7" x2="1405.1" y2="308.7"/></g><g stroke="#ff00ff" stroke-width="1.45"><line x1="1459.0" y1="271.0" x2="1459.0" y2="286.4" stroke-width="1.45"/><line x1="1459.0" y1="315.4" x2="1459.0" y2="330.8" stroke-width="1.45"/><line x1="1447.3" y1="271.0" x2="1470.7" y2="271.0"/><line x1="1447.3" y1="330.8" x2="1470.7" y2="330.8"/></g><g stroke="#ff00ff" stroke-width="1.45"><line x1="1529.3" y1="265.4" x2="1529.3" y2="281.0" stroke-width="1.45"/><line x1="1529.3" y1="310.0" x2="1529.3" y2="325.6" stroke-width="1.45"/><line x1="1517.6" y1="265.4" x2="1541.0" y2="265.4"/><line x1="1517.6" y1="325.6" x2="1541.0" y2="325.6"/></g><g stroke="#ff00ff" stroke-width="1.45"><line x1="1595.1" y1="277.5" x2="1595.1" y2="292.7" stroke-width="1.45"/><line x1="1595.1" y1="321.7" x2="1595.1" y2="336.9" stroke-width="1.45"/><line x1="1583.4" y1="277.5" x2="1606.8" y2="277.5"/><line x1="1583.4" y1="336.9" x2="1606.8" y2="336.9"/></g><g stroke="#ff00ff" stroke-width="1.45"><line x1="1665.5" y1="277.0" x2="1665.5" y2="292.3" stroke-width="1.45"/><line x1="1665.5" y1="321.3" x2="1665.5" y2="336.6" stroke-width="1.45"/><line x1="1653.8" y1="277.0" x2="1677.2" y2="277.0"/><line x1="1653.8" y1="336.6" x2="1677.2" y2="336.6"/></g></g>
<rect x="1071.5" y="620.5" width="705" height="376" fill="#fff" stroke="#222" stroke-width="1.3"/><line x1="1097" y1="667.0" x2="1231" y2="667.0" stroke="#000000" stroke-width="1.25"/><rect x="1150.0" y="652.5" width="27" height="27" fill="#000000"/><text x="1247" y="687.0" font-family="'Liberation Serif', 'Times New Roman', serif" font-size="59.5" fill="#000">0.5-Pt-0-Sn/SBA-100</text><line x1="1097" y1="740.8" x2="1231" y2="740.8" stroke="#ff0000" stroke-width="1.25"/><circle cx="1164.0" cy="740.8" r="14.4" fill="#ff0000"/><text x="1247" y="760.8" font-family="'Liberation Serif', 'Times New Roman', serif" font-size="59.5" fill="#000">0.5-Pt-1-Sn/SBA-100</text><line x1="1097" y1="814.6" x2="1231" y2="814.6" stroke="#0000ff" stroke-width="1.25"/><polygon points="1164.0,793.6 1182.0,825.1 1146.0,825.1" fill="#0000ff"/><text x="1247" y="834.6" font-family="'Liberation Serif', 'Times New Roman', serif" font-size="59.5" fill="#000">0.5-Pt-2-Sn/SBA-100</text><line x1="1097" y1="888.4" x2="1231" y2="888.4" stroke="#008080" stroke-width="1.25"/><circle cx="1164.0" cy="888.4" r="13.200000000000001" fill="#fff" stroke="#008080" stroke-width="2.6"/><text x="1247" y="908.4" font-family="'Liberation Serif', 'Times New Roman', serif" font-size="59.5" fill="#000">0.5-Pt-1-Sn/SBA-60</text><line x1="1097" y1="962.2" x2="1231" y2="962.2" stroke="#ff00ff" stroke-width="1.25"/><circle cx="1164.0" cy="962.2" r="13.200000000000001" fill="#fff" stroke="#ff00ff" stroke-width="2.6"/><text x="1247" y="982.2" font-family="'Liberation Serif', 'Times New Roman', serif" font-size="59.5" fill="#000">0.5-Pt-1-SnSBA-140</text>
</svg>
</body></html>
